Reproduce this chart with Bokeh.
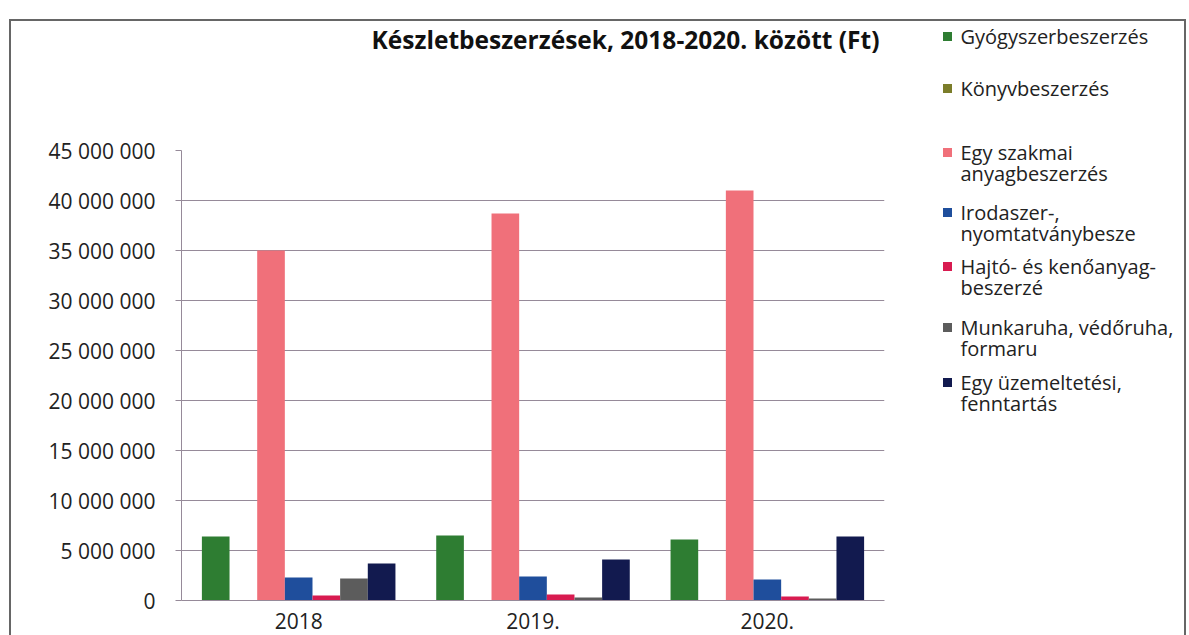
from bokeh.plotting import figure
from bokeh.models import (FactorRange, CustomJSTickFormatter, ColumnDataSource,
                          Range1d, FixedTicker)
from bokeh.layouts import row, column
from bokeh.transform import dodge
from bokeh.embed import file_html
from bokeh.resources import INLINE

years = ["2018", "2019.", "2020."]
series = ["Gyógyszerbeszerzés", "Könyvbeszerzés", "Egy szakmai anyagbeszerzés",
          "Irodaszer-, nyomtatványbesze", "Hajtó- és kenőanyag-beszerzé",
          "Munkaruha, védőruha, formaru", "Egy üzemeltetési, fenntartás"]
legend_lines = [["Gyógyszerbeszerzés"], ["Könyvbeszerzés"],
                ["Egy szakmai", "anyagbeszerzés"],
                ["Irodaszer-,", "nyomtatványbesze"],
                ["Hajtó- és kenőanyag-", "beszerzé"],
                ["Munkaruha, védőruha,", "formaru"],
                ["Egy üzemeltetési,", "fenntartás"]]
gyogyszer = [6400000, 6500000, 6100000]
konyv = [0, 0, 0]
szakmai = [35000000, 38700000, 41000000]
irodaszer = [2300000, 2400000, 2100000]
hajto = [500000, 600000, 400000]
munkaruha = [2200000, 300000, 200000]
uzemeltetesi = [3700000, 4100000, 6400000]
colors = ["#2e7d32", "#7b7d2a", "#f0707a", "#1f4e9c", "#d81b50", "#5c5c5c", "#121a4f"]
y_ticks = [0, 5000000, 10000000, 15000000, 20000000, 25000000, 30000000,
           35000000, 40000000, 45000000]
title_text = "Készletbeszerzések, 2018-2020. között (Ft)"

values = [gyogyszer, konyv, szakmai, irodaszer, hajto, munkaruha, uzemeltetesi]
keys = ["s%d" % i for i in range(len(series))]
data = {"year": years}
for k, v in zip(keys, values):
    data[k] = v
src = ColumnDataSource(data)

FONT = "Open Sans"
TXT = "#222222"
BORDER = "#666666"
W1, W2 = 900, 273
HT, HM = 43, 571
H = HT + HM
FRAME_W = 703  # width of the plot frame the title strip is aligned to


def blank(w, h, xr, yr):
    f = figure(width=w, height=h, x_range=xr, y_range=yr, output_backend="svg",
               toolbar_location=None, x_axis_type=None, y_axis_type=None,
               min_border=0, outline_line_color=None)
    f.grid.visible = False
    f.background_fill_color = "white"
    f.border_fill_color = "white"
    return f


# title strip (its frame is aligned with the chart frame by the column layout)
pt = blank(W1, HT, Range1d(0, FRAME_W), Range1d(HT, 0))
pt.text(x=[444], y=[18], text=[title_text], text_font={"value": FONT},
        text_font_style="bold", text_font_size="24.5px", text_align="center",
        text_baseline="middle", text_color="#111111")

# main chart
p = figure(x_range=FactorRange(*years), y_range=Range1d(0, 45000000),
           width=W1, height=HM, output_backend="svg", toolbar_location=None,
           min_border_left=170, min_border_right=27, min_border_top=86,
           min_border_bottom=35)
p.outline_line_color = None
p.background_fill_color = "white"
p.border_fill_color = "white"

bw = 0.118
for i, (k, c) in enumerate(zip(keys, colors)):
    p.vbar(x=dodge("year", (i - 3) * bw, range=p.x_range), top=k, width=bw,
           source=src, fill_color=c, line_color=None)

grid_color = "#968a99"
p.xgrid.grid_line_color = None
p.ygrid.grid_line_color = grid_color
p.ygrid.grid_line_width = 1
p.yaxis.ticker = FixedTicker(ticks=y_ticks)
p.yaxis.formatter = CustomJSTickFormatter(
    code="return Math.round(tick).toString().replace(/\\B(?=(\\d{3})+(?!\\d))/g, ' ');")
p.yaxis.axis_line_color = grid_color
p.yaxis.major_tick_line_color = grid_color
p.yaxis.major_tick_out = 6
p.yaxis.major_tick_in = 0
p.yaxis.minor_tick_line_color = None
p.yaxis.major_label_standoff = 20
p.yaxis.major_label_text_font = FONT
p.yaxis.major_label_text_font_size = "21px"
p.yaxis.major_label_text_color = TXT

p.xaxis.axis_line_color = grid_color
p.xaxis.major_tick_line_color = None
p.xaxis.major_label_standoff = 6
p.xaxis.major_label_text_font = FONT
p.xaxis.major_label_text_font_size = "21px"
p.xaxis.major_label_text_color = TXT

# legend panel
pl = blank(W2, H, Range1d(0, W2), Range1d(H, 0))
legend_y = [15, 67, 131, 191, 245, 306, 361]
sq_x, tx_x, line_h = 36, 49, 21
for lines, c, ly in zip(legend_lines, colors, legend_y):
    pl.scatter(x=[sq_x], y=[ly], marker="square", size=9, fill_color=c, line_color=None)
    for j, t in enumerate(lines):
        pl.text(x=[tx_x], y=[ly + j * line_h], text=[t], text_font={"value": FONT},
                text_font_size="20px", text_align="left", text_baseline="middle",
                text_color=TXT)

layout = row(column(pt, p, spacing=0), pl, spacing=0,
             margin=(19, 0, 0, 9),
             styles={"border-top": "2px solid " + BORDER,
                     "border-left": "2px solid " + BORDER,
                     "border-right": "2px solid " + BORDER})

open("out.html", "w").write(file_html(layout, INLINE))
